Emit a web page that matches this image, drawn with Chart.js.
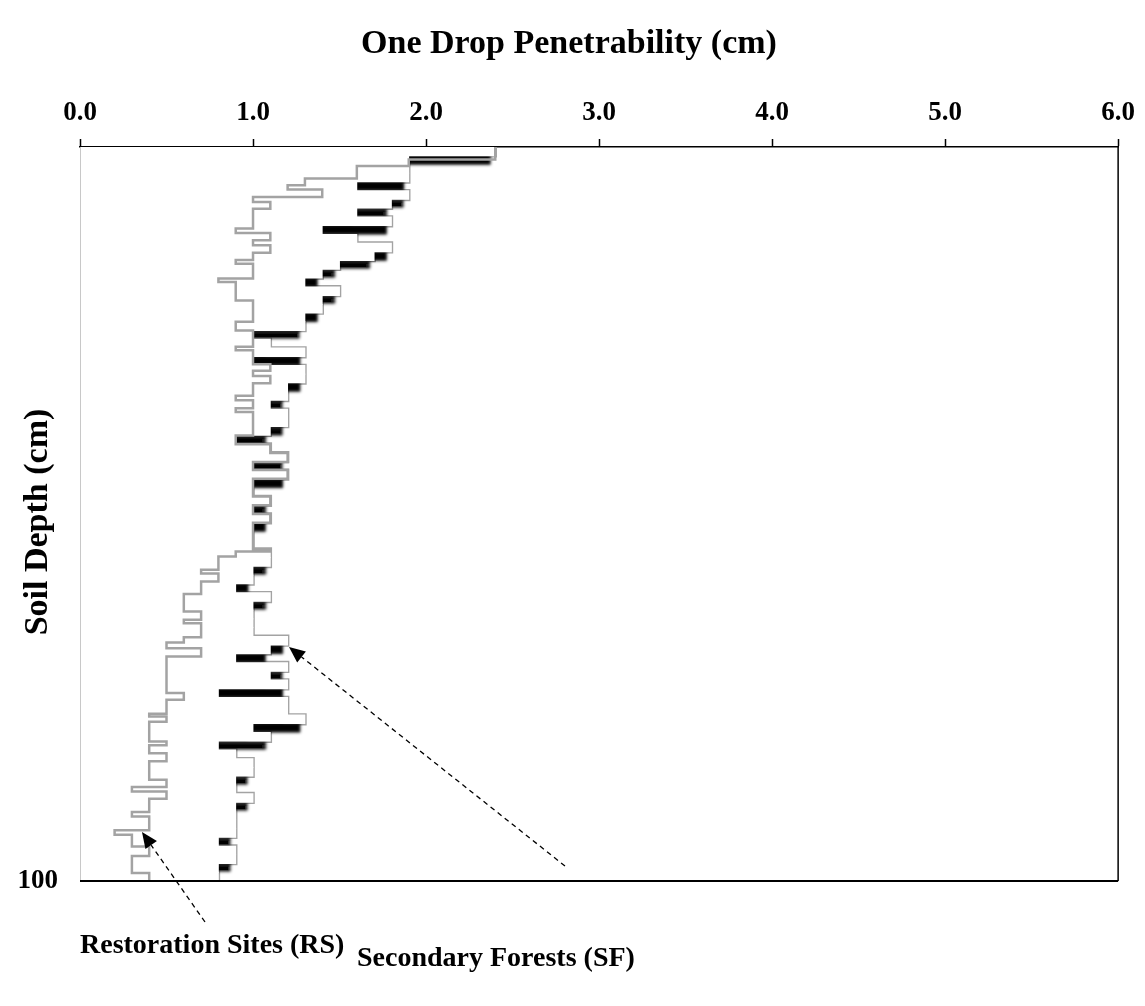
<!DOCTYPE html>
<html>
<head>
<meta charset="utf-8">
<script src="https://cdn.jsdelivr.net/npm/chart.js@4.4.0/dist/chart.umd.min.js"></script>
<style>
  html, body { margin: 0; padding: 0; background: #fff; }
</style>
</head>
<body>
<canvas id="myChart" width="1145" height="1006"></canvas>
<script>
/* global Chart */

// Secondary Forests: one value per depth row, top to bottom
const sfValues = [
  2.4, 1.9, 1.9, 1.9, 1.6, 1.9, 1.8, 1.6, 1.8, 1.4,
  1.6, 1.8, 1.7, 1.5, 1.4, 1.3, 1.5, 1.4, 1.4, 1.3,
  1.3, 1.0, 1.1, 1.3, 1.0, 1.3, 1.3, 1.2, 1.2, 1.1,
  1.2, 1.2, 1.1, 0.9, 1.1, 1.2, 1.0, 1.2, 1.0, 1.0,
  1.1, 1.0, 1.1, 1.0, 1.0, 1.0, 1.1, 1.1, 1.0, 1.0,
  0.9, 1.1, 1.0, 1.0, 1.0, 1.0, 1.2, 1.1, 0.9, 1.2,
  1.1, 1.2, 0.8, 1.2, 1.2, 1.3, 1.0, 1.1, 0.8, 0.9,
  1.0, 1.0, 0.9, 0.9, 1.0, 0.9, 0.9, 0.9, 0.9, 0.8,
  0.9, 0.9, 0.8, 0.8,
];

// Restoration Sites: depth (cm) where each step starts, and its value
const rsDepth = [
  0, 1.7, 2.6, 4.3, 5.2, 5.8, 6.8, 7.5, 8.4, 11.1,
  11.7, 12.7, 13.4, 14.4, 15.4, 15.9, 17.9, 18.4, 20.9, 23.8,
  25.0, 27.2, 27.7, 29.6, 30.5, 31.2, 32.2, 33.9, 34.5, 35.6,
  36.1, 39.3, 40.5, 41.7, 42.9, 44.0, 45.2, 47.6, 48.8, 50.0,
  51.2, 54.8, 55.1, 55.8, 57.6, 58.1, 59.2, 60.9, 63.3, 64.4,
  64.9, 66.8, 67.5, 68.3, 69.4, 74.4, 75.3, 77.2, 77.6, 78.3,
  81.0, 81.5, 82.6, 83.7, 86.2, 87.2, 87.8, 88.8, 90.6, 91.2,
  93.1, 93.7, 95.3, 96.6, 98.9,
];
const rsValues = [
  2.4, 1.9, 1.6, 1.3, 1.2, 1.4, 1.0, 1.1, 1.0, 0.9,
  1.1, 1.0, 1.1, 1.0, 0.9, 1.0, 0.8, 0.9, 1.0, 0.9,
  1.0, 0.9, 1.0, 1.1, 1.0, 1.1, 1.0, 0.9, 1.0, 0.9,
  1.0, 0.9, 1.1, 1.2, 1.0, 1.2, 1.0, 1.1, 1.0, 1.1,
  1.0, 1.1, 0.9, 0.8, 0.7, 0.8, 0.7, 0.6, 0.7, 0.6,
  0.7, 0.6, 0.5, 0.7, 0.5, 0.6, 0.5, 0.4, 0.5, 0.4,
  0.5, 0.4, 0.5, 0.4, 0.5, 0.3, 0.5, 0.4, 0.3, 0.4,
  0.2, 0.3, 0.4, 0.3, 0.4,
];

const xTicks = [0, 1, 2, 3, 4, 5, 6];
const yTicks = [100];

const serif = "'Liberation Serif', 'Times New Roman', serif";
const rowSize = 100 / sfValues.length;

function stepPoints(depths, values) {
  const pts = depths.map((d, i) => ({ x: values[i], y: d }));
  pts.push({ x: values[values.length - 1], y: 100 });
  return pts;
}

function arrow(c, x1, y1, x2, y2) {
  const ang = Math.atan2(y2 - y1, x2 - x1);
  const len = 16;
  const bx = x2 - len * Math.cos(ang);
  const by = y2 - len * Math.sin(ang);
  c.save();
  c.strokeStyle = "#000";
  c.lineWidth = 1.3;
  c.setLineDash([5, 4]);
  c.beginPath();
  c.moveTo(x1, y1);
  c.lineTo(bx, by);
  c.stroke();
  c.setLineDash([]);
  c.fillStyle = "#000";
  c.beginPath();
  c.moveTo(x2, y2);
  c.lineTo(bx + 7 * Math.sin(ang), by - 7 * Math.cos(ang));
  c.lineTo(bx - 7 * Math.sin(ang), by + 7 * Math.cos(ang));
  c.closePath();
  c.fill();
  c.restore();
}

const extras = {
  id: "extras",
  beforeDatasetDraw(chart, args) {
    if (chart.data.datasets[args.index].label === "SF") {
      const c = chart.ctx;
      c.save();
      // dark drop shadow under each white bar, shows where the next row is shorter
      c.shadowColor = "rgba(0,0,0,1)";
      c.shadowBlur = 3;
      c.shadowOffsetX = -5;
      c.shadowOffsetY = 8.5;
    }
  },
  afterDatasetDraw(chart, args) {
    if (chart.data.datasets[args.index].label === "SF") {
      chart.ctx.restore();
    }
  },
  afterDraw(chart) {
    const c = chart.ctx;
    const a = chart.chartArea;
    c.save();
    // frame
    c.strokeStyle = "#c8c8c8";
    c.lineWidth = 1;
    c.beginPath();
    c.moveTo(a.left + 0.5, a.top);
    c.lineTo(a.left + 0.5, a.bottom);
    c.stroke();
    c.strokeStyle = "#000";
    c.lineWidth = 1.5;
    c.beginPath();
    c.moveTo(a.right, a.top);
    c.lineTo(a.right, a.bottom);
    c.stroke();
    c.lineWidth = 2;
    c.beginPath();
    c.moveTo(a.left, a.bottom);
    c.lineTo(a.right, a.bottom);
    c.stroke();

    // titles
    c.fillStyle = "#000";
    c.font = "bold 34px " + serif;
    c.textAlign = "center";
    c.textBaseline = "alphabetic";
    c.fillText("One Drop Penetrability (cm)", 569, 53);
    c.save();
    c.translate(47, 522);
    c.rotate(-Math.PI / 2);
    c.fillText("Soil Depth (cm)", 0, 0);
    c.restore();

    c.font = "bold 28px " + serif;
    c.textAlign = "left";
    c.fillText("Restoration Sites (RS)", 80, 953);
    c.fillText("Secondary Forests (SF)", 357, 966);
    c.restore();

    arrow(c, 205, 922, 142, 832);
    arrow(c, 565, 866, 289, 647);
  },
};

const ctx = document.getElementById("myChart");
const myChart = new Chart(ctx, {
  type: "bar",
  data: {
    datasets: [
      {
        type: "line",
        label: "RS",
        data: stepPoints(rsDepth, rsValues),
        stepped: "after",
        borderColor: "#a3a3a3",
        borderWidth: 2.5,
        pointRadius: 0,
        fill: false,
        order: 0,
      },
      {
        label: "SF",
        data: sfValues.map((v, i) => ({ x: v, y: (i + 0.5) * rowSize })),
        backgroundColor: "#ffffff",
        borderWidth: 0,
        barPercentage: 1,
        categoryPercentage: 1,
        inflateAmount: 0.4,
        order: 1,
      },
      {
        type: "line",
        label: "SF edge",
        data: stepPoints(sfValues.map((v, i) => i * rowSize), sfValues),
        stepped: "after",
        borderColor: "#a3a3a3",
        borderWidth: 3.5,
        pointRadius: 0,
        fill: false,
        order: 2,
      },
    ],
  },
  options: {
    responsive: false,
    animation: false,
    devicePixelRatio: 1,
    indexAxis: "y",
    layout: { padding: { top: 0, left: 0, right: 25, bottom: 125 } },
    plugins: {
      legend: { display: false },
      tooltip: { enabled: false },
    },
    scales: {
      x: {
        type: "linear",
        position: "top",
        min: 0,
        max: 6,
        afterBuildTicks: (s) => {
          s.ticks = xTicks.map((v) => ({ value: v }));
        },
        ticks: {
          callback: (v) => Number(v).toFixed(1),
          font: { family: serif, size: 27, weight: "bold" },
          color: "#000",
          padding: 10,
          maxRotation: 0,
        },
        grid: {
          drawOnChartArea: false,
          drawTicks: true,
          tickLength: 8,
          tickColor: "#000",
          tickWidth: 1.5,
        },
        border: { display: true, color: "#000", width: 1.5 },
        afterFit: (s) => {
          s.height = 147;
        },
      },
      y: {
        type: "linear",
        position: "left",
        reverse: true,
        offset: false,
        min: 0,
        max: 100,
        afterBuildTicks: (s) => {
          s.ticks = yTicks.map((v) => ({ value: v }));
        },
        ticks: {
          font: { family: serif, size: 27, weight: "bold" },
          color: "#000",
          padding: 14,
        },
        grid: { display: false, offset: false },
        border: { display: false },
        afterFit: (s) => {
          s.width = 80;
        },
      },
    },
  },
  plugins: [extras],
});
</script>
</body>
</html>
